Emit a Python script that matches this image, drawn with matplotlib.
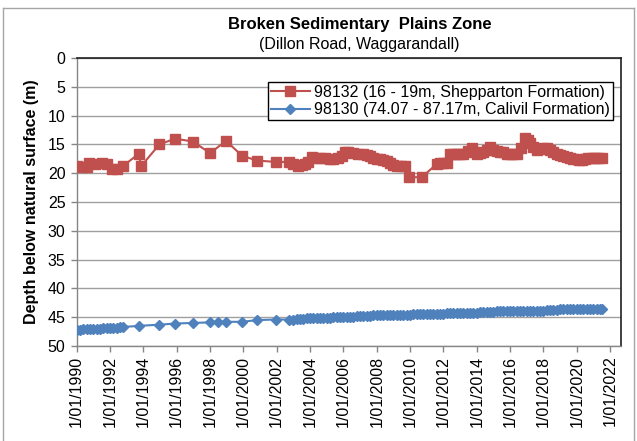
import matplotlib
matplotlib.use("Agg")
import matplotlib.pyplot as plt
from matplotlib.lines import Line2D

plt.rcParams['font.family'] = ['Liberation Sans', 'DejaVu Sans']

# ---------------- data ----------------
red_label = "98132 (16 - 19m, Shepparton Formation)"
blue_label = "98130 (74.07 - 87.17m, Calivil Formation)"

red_years = [1990.04, 1990.3, 1990.6, 1990.76, 1991.1, 1991.5, 1991.8, 1992.1, 1992.4, 1992.8,
             1993.74, 1993.86, 1994.96, 1995.9, 1996.96, 1998.0, 1998.96, 1999.93, 2000.83,
             2001.96, 2002.75, 2003.0, 2003.3, 2003.5, 2003.7, 2003.9, 2004.1, 2004.3, 2004.6,
             2004.9, 2005.2, 2005.4, 2005.7, 2005.9, 2006.1, 2006.3, 2006.6, 2006.9, 2007.2,
             2007.4, 2007.6, 2007.8, 2008.0, 2008.2, 2008.4, 2008.6, 2008.8, 2009.0, 2009.2,
             2009.45, 2009.7, 2009.95, 2010.7, 2011.6, 2011.8, 2012.0, 2012.2, 2012.4, 2012.6,
             2012.8, 2013.0, 2013.2, 2013.45, 2013.7, 2013.85, 2014.0, 2014.2, 2014.4, 2014.6,
             2014.8, 2015.0, 2015.2, 2015.4, 2015.6, 2015.8, 2016.0, 2016.2, 2016.4, 2016.65,
             2016.9, 2017.05, 2017.2, 2017.4, 2017.6, 2017.8, 2018.0, 2018.2, 2018.4, 2018.6,
             2018.8, 2019.0, 2019.2, 2019.4, 2019.6, 2019.8, 2020.0, 2020.15, 2020.3, 2020.5,
             2020.7, 2020.9, 2021.1, 2021.3, 2021.5]
red_depth = [18.7, 18.9, 19.0, 18.2, 18.4, 18.3, 18.4, 19.2, 19.3, 18.7,
             16.6, 18.8, 15.0, 14.0, 14.5, 16.5, 14.4, 17.0, 17.8,
             18.05, 18.05, 18.4, 18.7, 18.6, 18.4, 18.0, 17.2, 17.3, 17.3,
             17.4, 17.5, 17.5, 17.3, 17.0, 16.4, 16.4, 16.5, 16.6, 16.7,
             16.8, 17.0, 17.3, 17.5, 17.6, 17.7, 17.9, 18.2, 18.5, 18.8,
             18.8, 18.8, 20.7, 20.7, 18.4, 18.3, 18.3, 18.3, 16.6, 16.6,
             16.6, 16.7, 16.7, 16.2, 15.6, 16.3, 16.6, 16.5, 16.4, 16.0,
             15.5, 15.9, 16.2, 16.3, 16.4, 16.6, 16.7, 16.7, 16.7, 15.6,
             13.9, 14.3, 14.8, 15.4, 15.9, 15.8, 15.6, 15.7, 15.9, 16.3,
             16.7, 16.9, 17.0, 17.2, 17.3, 17.5, 17.6, 17.7, 17.7, 17.5,
             17.3, 17.3, 17.3, 17.3, 17.3]

blue_years = [1990.04, 1990.2, 1990.4, 1990.6, 1990.8, 1991.0, 1991.2, 1991.4, 1991.6, 1991.8,
              1992.0, 1992.2, 1992.4, 1992.6, 1992.8, 1993.74, 1994.96, 1995.9, 1996.96, 1998.0,
              1998.46, 1998.96, 1999.93, 2000.83, 2001.96, 2002.75,
              2003.0, 2003.2, 2003.4, 2003.6, 2003.8, 2004.0, 2004.2, 2004.4, 2004.6, 2004.8,
              2005.0, 2005.2, 2005.4, 2005.6, 2005.8, 2006.0, 2006.2, 2006.4, 2006.6, 2006.8,
              2007.0, 2007.2, 2007.4, 2007.6, 2007.8, 2008.0, 2008.2, 2008.4, 2008.6, 2008.8,
              2009.0, 2009.2, 2009.4, 2009.6, 2009.8, 2010.0, 2010.2, 2010.4, 2010.6, 2010.8,
              2011.0, 2011.2, 2011.4, 2011.6, 2011.8, 2012.0, 2012.2, 2012.4, 2012.6, 2012.8,
              2013.0, 2013.2, 2013.4, 2013.6, 2013.8, 2014.0, 2014.2, 2014.4, 2014.6, 2014.8,
              2015.0, 2015.2, 2015.4, 2015.6, 2015.8, 2016.0, 2016.2, 2016.4, 2016.6, 2016.8,
              2017.0, 2017.2, 2017.4, 2017.6, 2017.8, 2018.0, 2018.2, 2018.4, 2018.6, 2018.8,
              2019.0, 2019.2, 2019.4, 2019.6, 2019.8, 2020.0, 2020.2, 2020.4, 2020.6, 2020.8,
              2021.0, 2021.2, 2021.4, 2021.5]
blue_depth = [47.2, 47.2, 47.1, 47.1, 47.1, 47.0, 47.0, 47.0, 46.9, 46.9,
              46.9, 46.8, 46.8, 46.7, 46.7, 46.5, 46.3, 46.1, 46.0, 45.9,
              45.8, 45.8, 45.8, 45.5, 45.4, 45.4,
              45.4, 45.3, 45.3, 45.3, 45.2, 45.2, 45.2, 45.2, 45.1, 45.1,
              45.1, 45.1, 45.0, 45.0, 45.0, 44.9, 44.9, 44.9, 44.9, 44.8,
              44.8, 44.8, 44.8, 44.8, 44.7, 44.7, 44.6, 44.6, 44.7, 44.7,
              44.7, 44.6, 44.6, 44.6, 44.6, 44.6, 44.5, 44.5, 44.5, 44.5,
              44.5, 44.4, 44.4, 44.4, 44.4, 44.4, 44.3, 44.3, 44.3, 44.3,
              44.3, 44.2, 44.2, 44.2, 44.2, 44.2, 44.1, 44.1, 44.1, 44.1,
              44.1, 44.0, 44.0, 44.0, 44.0, 43.9, 43.9, 43.9, 43.9, 43.9,
              43.9, 43.9, 43.9, 43.9, 43.9, 44.0, 43.7, 43.7, 43.7, 43.7,
              43.6, 43.6, 43.6, 43.6, 43.6, 43.6, 43.5, 43.5, 43.5, 43.5,
              43.5, 43.5, 43.5, 43.5]

y_ticks = [0, 5, 10, 15, 20, 25, 30, 35, 40, 45, 50]
x_tick_years = [1990, 1992, 1994, 1996, 1998, 2000, 2002, 2004, 2006, 2008, 2010,
                2012, 2014, 2016, 2018, 2020, 2022]
x_tick_labels = ["1/01/%d" % y for y in x_tick_years]

title = "Broken Sedimentary  Plains Zone"
subtitle = "(Dillon Road, Waggarandall)"
ylabel = "Depth below natural surface (m)"

RED = "#C0504D"
BLUE = "#4F81BD"

# ---------------- figure ----------------
W, H = 637, 441
fig = plt.figure(figsize=(W / 100, H / 100), dpi=100)
L, R, T, B = 76.7, 621, 58, 346
ax = fig.add_axes([L / W, 1 - B / H, (R - L) / W, (B - T) / H])

ax.plot(red_years, red_depth, color=RED, lw=1.5, marker='s', ms=7,
        mec=RED, mfc=RED, label=red_label, zorder=3)
ax.plot(blue_years, blue_depth, color=BLUE, lw=1.5, marker='D', ms=5.5,
        mec=BLUE, mfc=BLUE, label=blue_label, zorder=3)

ax.set_ylim(50, 0)
ax.set_xlim(1990, 2022.65)
ax.set_yticks(y_ticks)
ax.set_yticklabels([str(v) for v in y_ticks], fontsize=11.5)
ax.set_xticks(x_tick_years)
ax.set_xticklabels(x_tick_labels, rotation=90, fontsize=11.5, ha='center', va='top')
ax.tick_params(axis='both', direction='out', length=4, color='#868686', width=1)
ax.tick_params(axis='y', pad=4)
ax.tick_params(axis='x', pad=3)

ax.yaxis.grid(True, color='#A0A0A0', lw=1)
ax.set_axisbelow(True)
for s in ['left', 'bottom']:
    ax.spines[s].set_color('#868686')
    ax.spines[s].set_linewidth(1)
for s in ['top', 'right']:
    ax.spines[s].set_color('#202020')
    ax.spines[s].set_linewidth(1.2)

ax.set_ylabel(ylabel, fontsize=11.5, fontweight='bold', labelpad=6)

fig.text(360 / W, 1 - 24 / H, title, ha='center', va='center',
         fontsize=12, fontweight='bold')
fig.text(359 / W, 1 - 44 / H, subtitle, ha='center', va='center',
         fontsize=11.5)

leg = ax.legend(loc='upper right', bbox_to_anchor=(0.986, 0.918), fontsize=11.5,
                frameon=True, fancybox=False, framealpha=1, edgecolor='black',
                borderaxespad=0, handlelength=2.4, handletextpad=0.3,
                borderpad=0.2, labelspacing=0.15)
leg.get_frame().set_linewidth(1.0)

# outer chart border
fig.add_artist(Line2D([3 / W, 3 / W], [0, 1 - 8 / H], transform=fig.transFigure,
                      color='#A6A6A6', lw=1))
fig.add_artist(Line2D([3 / W, 634 / W], [1 - 8 / H, 1 - 8 / H], transform=fig.transFigure,
                      color='#A6A6A6', lw=1))
fig.add_artist(Line2D([634 / W, 634 / W], [0, 1 - 8 / H], transform=fig.transFigure,
                      color='#A6A6A6', lw=1))

fig.savefig("out.png", dpi=100)
